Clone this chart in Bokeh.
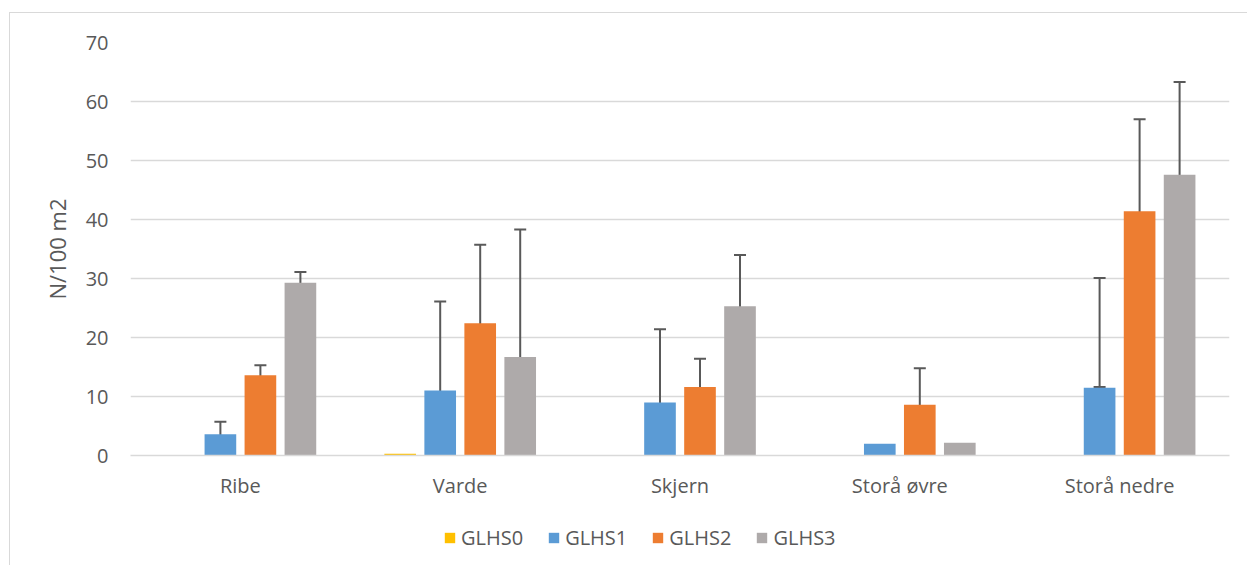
from bokeh.plotting import figure
from bokeh.models import (ColumnDataSource, FactorRange, Range1d, Whisker, TeeHead,
                          Legend, LegendItem)
from bokeh.layouts import column
from bokeh.transform import dodge
from bokeh.embed import file_html
from bokeh.resources import INLINE

# ---- data ----
cats = ["Ribe", "Varde", "Skjern", "Storå øvre", "Storå nedre"]
series = ["GLHS0", "GLHS1", "GLHS2", "GLHS3"]
glhs0 = [0.0, 0.3, 0.0, 0.0, 0.0]
glhs1 = [3.6, 11.0, 9.0, 2.0, 11.5]
glhs2 = [13.6, 22.4, 11.6, 8.6, 41.4]
glhs3 = [29.3, 16.7, 25.3, 2.15, 47.6]
glhs1_hi = [5.7, 26.1, 21.4, None, 30.1]
glhs1_lo = [1.6, 0.3, 0.5, None, 11.6]
glhs2_hi = [15.3, 35.7, 16.4, 14.8, 57.0]
glhs2_lo = [12.0, 9.05, 6.9, 2.3, 25.9]
glhs3_hi = [31.1, 38.3, 34.0, None, 63.3]
glhs3_lo = [27.6, 7.8, 16.8, None, 32.0]
y_ticks = [0, 10, 20, 30, 40, 50, 60, 70]

colors = ["#FFC000", "#5B9BD5", "#ED7D31", "#AEAAAA"]
offsets = [-0.273, -0.091, 0.091, 0.273]
bar_w = 0.144
FONT = "Open Sans"
TXT = "#595959"
GRID = "#D9D9D9"

values = [glhs0, glhs1, glhs2, glhs3]
errs = [(None, None), (glhs1_hi, glhs1_lo), (glhs2_hi, glhs2_lo), (glhs3_hi, glhs3_lo)]

p = figure(x_range=FactorRange(factors=cats, range_padding=0),
           y_range=Range1d(0, 70),
           frame_width=1099, frame_height=413,
           min_border_left=120, min_border_right=30, min_border_top=29, min_border_bottom=60,
           output_backend="svg", toolbar_location=None)
p.outline_line_color = None
p.background_fill_color = "white"
p.border_fill_color = "white"

# legend strip: its own figure; its key renderers use a scale on which the
# location names do not exist, so they draw nothing but still give legend keys
lg = figure(x_range=FactorRange(factors=series), y_range=Range1d(0, 1),
            frame_width=1099, frame_height=50,
            min_border_left=120, min_border_right=30, min_border_top=0, min_border_bottom=0,
            x_axis_location=None, y_axis_location=None,
            output_backend="svg", toolbar_location=None)
lg.outline_line_color = None
lg.grid.grid_line_color = None
lg.background_fill_color = "white"
lg.border_fill_color = "white"

items = []
for name, vals, col, off, (hi, lo) in zip(series, values, colors, offsets, errs):
    src = ColumnDataSource(dict(cat=cats, val=vals))
    p.vbar(x=dodge("cat", off, range=p.x_range), top="val", width=bar_w,
           source=src, fill_color=col, line_color=None)
    ksrc = ColumnDataSource(dict(cat=cats, val=vals))
    r = lg.vbar(x="cat", top="val", width=bar_w, source=ksrc,
                fill_color=col, line_color=None)
    items.append(LegendItem(label=name, renderers=[r]))
    if hi is not None:
        keep = [i for i in range(len(cats)) if hi[i] is not None]
        esrc = ColumnDataSource(dict(cat=[cats[i] for i in keep],
                                     upper=[hi[i] for i in keep],
                                     lower=[lo[i] for i in keep]))
        w = Whisker(source=esrc, base=dodge("cat", off, range=p.x_range),
                    upper="upper", lower="lower", dimension="height",
                    line_color=TXT, line_width=2,
                    upper_head=TeeHead(size=12, line_color=TXT, line_width=2),
                    lower_head=TeeHead(size=12, line_color=TXT, line_width=2))
        p.add_layout(w)

# axes & grid
p.xgrid.grid_line_color = None
p.ygrid.grid_line_color = GRID
p.ygrid.grid_line_width = 1.3
p.yaxis.ticker = y_ticks
p.yaxis.axis_line_color = None
p.yaxis.major_tick_line_color = None
p.yaxis.minor_tick_line_color = None
p.yaxis.major_label_standoff = 16
p.yaxis.major_label_text_font = FONT
p.yaxis.major_label_text_font_size = "20px"
p.yaxis.major_label_text_color = TXT
p.yaxis.axis_label = "N/100 m2"
p.yaxis.axis_label_text_font = FONT
p.yaxis.axis_label_text_font_size = "22px"
p.yaxis.axis_label_text_font_style = "normal"
p.yaxis.axis_label_text_color = TXT
p.yaxis.axis_label_standoff = 11

p.xaxis.axis_line_color = GRID
p.xaxis.axis_line_width = 1.5
p.xaxis.major_tick_line_color = None
p.xaxis.minor_tick_line_color = None
p.xaxis.major_label_standoff = 10
p.xaxis.major_label_text_font = FONT
p.xaxis.major_label_text_font_size = "20px"
p.xaxis.major_label_text_color = TXT

legend = Legend(items=items, orientation="horizontal", location=(313, 14),
                glyph_width=13, glyph_height=13, label_standoff=5, spacing=24,
                padding=0, margin=0, border_line_color=None, background_fill_alpha=0,
                label_text_font=FONT, label_text_font_size="20px", label_text_color=TXT)
lg.add_layout(legend, "center")

page = column(p, lg, spacing=0)
page.styles = {"border-left": "1.5px solid #D9D9D9", "border-top": "1.5px solid #D9D9D9",
               "margin-left": "9px", "margin-top": "12px"}

open("out.html", "w").write(file_html(page, INLINE))
